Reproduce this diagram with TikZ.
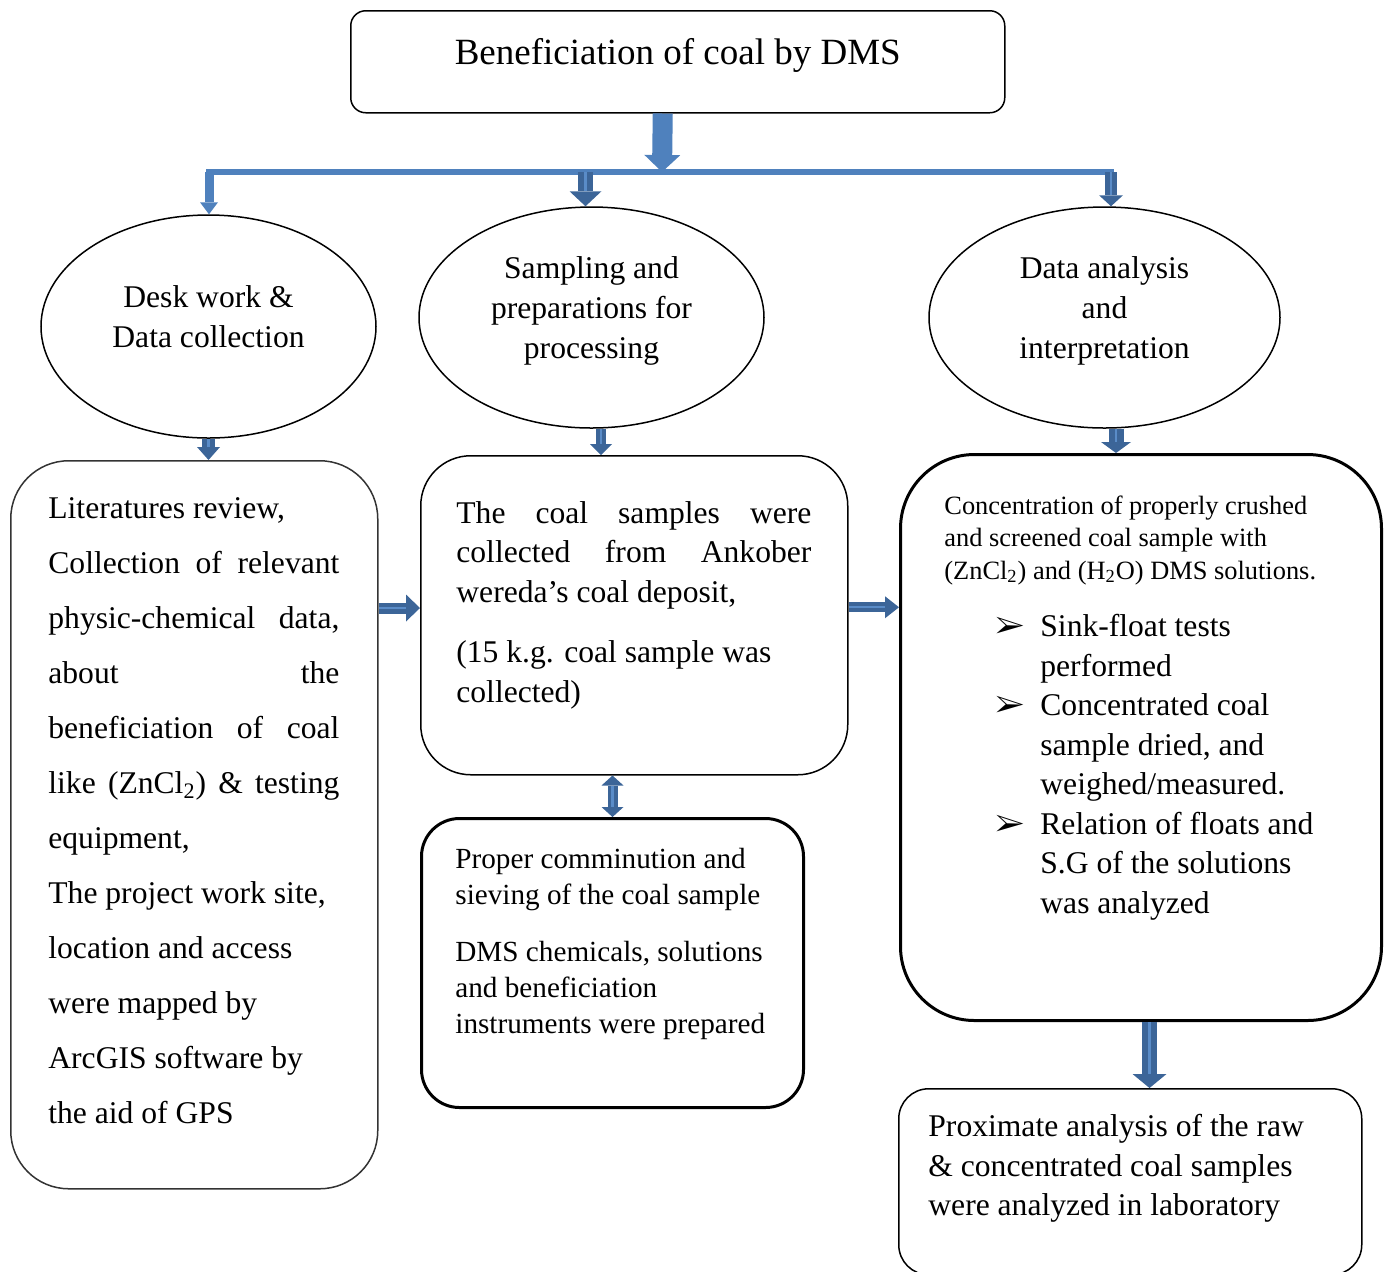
\documentclass[tikz,border=0pt]{standalone}
\usepackage{fontspec}
\setmainfont{Liberation Serif}
\usepackage{pifont}
\usetikzlibrary{positioning,arrows.meta,shapes.geometric}
\definecolor{barblue}{HTML}{4F81BD}
\definecolor{arrowdark}{HTML}{3C6598}
\definecolor{stripeblue}{HTML}{5A8CC8}
\newcommand{\txtbig}{\fontsize{18.5pt}{22pt}\selectfont}
\newcommand{\txtmain}{\fontsize{15.8pt}{19.75pt}\selectfont}
\newcommand{\txtmid}{\fontsize{14.6pt}{18pt}\selectfont}
\newcommand{\txtsmall}{\fontsize{13.2pt}{16.25pt}\selectfont}

\begin{document}
\begin{tikzpicture}[x=0.5pt, y=-0.5pt,
  box/.style={draw, rounded corners=#1, line width=0.75pt, inner sep=0pt, anchor=north west},
  oval/.style={draw, ellipse, line width=0.75pt, inner sep=0pt},
  txt/.style={inner sep=0pt, anchor=north west},
  ragtxt/.style={txt, align=left, execute at begin node={\spaceskip=0pt\xspaceskip=0pt}},
  etxt/.style={inner sep=0pt, align=center, font=\fontsize{15.8pt}{20pt}\selectfont},
  bar/.style={draw=barblue, line width=3pt},
  lightblk/.style n args={3}{draw=barblue, line width=#1, -{Triangle[width=#2, length=#3, line width=0pt]}},
  blk/.style n args={3}{draw=arrowdark, line width=#1, -{Triangle[width=#2, length=#3, line width=0pt]},
    postaction={draw=stripeblue, line width=1.2pt, -, shorten >=#3}},
  dblblk/.style n args={3}{draw=arrowdark, line width=#1,
    {Triangle[width=#2, length=#3, line width=0pt]}-{Triangle[width=#2, length=#3, line width=0pt]},
    postaction={draw=stripeblue, line width=1.2pt, -, shorten >=#3, shorten <=#3}}]
  \useasboundingbox (0,0) rectangle (1387,1271);

  \node[box=7.5pt, minimum width=327pt, minimum height=51pt] (title) at (350,10) {};
  \node[anchor=base, inner sep=0pt, font=\txtbig] (titletxt) at ([yshift=-27pt]title.north) {Beneficiation of coal by DMS};

  \node[oval, minimum width=167.5pt, minimum height=111.5pt] (desk) at (208.5,326.5) {};
  \node[etxt] (desktxt) at ([yshift=5pt]desk.center) {Desk work \&\\Data collection};
  \node[oval, minimum width=172.5pt, minimum height=110.5pt] (samp) at (591.5,317.5) {};
  \node[etxt] (samptxt) at ([yshift=3.5pt]samp.center) {Sampling and\\preparations for\\processing};
  \node[oval, minimum width=175.5pt, minimum height=110.5pt] (data) at (1104.5,317.5) {};
  \node[etxt] (datatxt) at ([yshift=3.5pt]data.center) {Data analysis\\and\\interpretation};

  \node[box=29pt, draw=black!80, minimum width=183.5pt, minimum height=364pt] (lit) at (10,460) {};
  \node[txt, text width=145.5pt, align=justify, font=\fontsize{15.8pt}{27.5pt}\selectfont] (littxt) at ([xshift=19pt, yshift=-18.5pt]lit.north west)
    {Literatures review,\par Collection of relevant\linebreak physic-chemical data,\linebreak about the\linebreak beneficiation of coal\linebreak like (ZnCl\textsubscript{2}) \& testing\linebreak equipment,\par The project work site,\newline location and access\newline were mapped by\newline ArcGIS software by\newline the aid of GPS};

  \node[box=25pt, minimum width=213.5pt, minimum height=159.5pt] (coll) at (420,455) {};
  \node[txt, text width=177.5pt, align=justify, font=\txtmain] (colltxt) at ([xshift=18pt, yshift=-23pt]coll.north west)
    {The coal samples were\linebreak collected from Ankober\linebreak wereda's coal deposit,\par\vspace{10.5pt}(15 k.g. coal sample was\newline collected)};

  \node[box=19pt, line width=1.5pt, minimum width=191pt, minimum height=144.5pt] (comm) at (420,817) {};
  \node[ragtxt, text width=170pt, font=\txtmid] (commtxt) at ([xshift=17.5pt, yshift=-15.5pt]comm.north west)
    {Proper comminution and\\sieving of the coal sample\\[10.5pt]DMS chemicals, solutions\\and beneficiation\\instruments were prepared};

  \node[box=37pt, line width=1.5pt, minimum width=240.5pt, minimum height=283pt] (conc) at (899,453) {};
  \node[ragtxt, text width=210pt, font=\txtsmall] (conctxt) at ([xshift=22.5pt, yshift=-21pt]conc.north west)
    {Concentration of properly crushed\\and screened coal sample with\\(ZnCl\textsubscript{2}) and (H\textsubscript{2}O) DMS solutions.};
  \node[ragtxt, text width=170pt, font=\txtmain] (concitems) at ([xshift=48pt, yshift=-80.5pt]conc.north west)
    {\makebox[22.5pt][l]{\ding{226}}Sink-float tests\\\hspace*{22.5pt}performed\\
     \makebox[22.5pt][l]{\ding{226}}Concentrated coal\\\hspace*{22.5pt}sample dried, and\\\hspace*{22.5pt}weighed/measured.\\
     \makebox[22.5pt][l]{\ding{226}}Relation of floats and\\\hspace*{22.5pt}S.G of the solutions\\\hspace*{22.5pt}was analyzed};

  \node[box=15pt, minimum width=231.5pt, minimum height=93pt] (prox) at (898,1088) {};
  \node[ragtxt, text width=205pt, font=\txtmain] (proxtxt) at ([xshift=15pt, yshift=-13pt]prox.north west)
    {Proximate analysis of the raw\\\& concentrated coal samples\\were analyzed in laboratory};

  \coordinate (hub) at (662,172);
  \coordinate (barL) at (209,172);
  \coordinate (barM) at (585.5,172);
  \coordinate (barR) at (1111,172);
  \coordinate (titleout) at ([xshift=-7.5pt]title.south);
  \draw[bar, line cap=rect] (barL) -- (barR);
  \draw[lightblk={10pt}{18pt}{8.5pt}] (titleout) -- (hub);
  \draw[lightblk={4.5pt}{9pt}{6pt}] (barL) -- (barL |- desk.north);
  \draw[blk={7.5pt}{16pt}{7.5pt}] (barM) -- (barM |- samp.north);
  \draw[blk={6pt}{12pt}{5.5pt}] (barR) -- (barR |- data.north);

  \coordinate (sampout) at ([xshift=4.75pt]samp.south);
  \coordinate (dataout) at ([xshift=5.75pt]data.south);
  \coordinate (litout) at ([yshift=-74pt]lit.north east);
  \coordinate (collout) at ([yshift=4pt]coll.east);
  \coordinate (concout) at ([xshift=4.25pt]conc.south);
  \draw[blk={6.5pt}{11.5pt}{6.5pt}] (desk.south) -- (desk.south |- lit.north);
  \draw[blk={5pt}{11pt}{5.5pt}] (sampout) -- (sampout |- coll.north);
  \draw[blk={7.5pt}{15pt}{5.5pt}] (dataout) -- (dataout |- conc.north);
  \draw[blk={5.5pt}{13.5pt}{7pt}] (litout) -- (litout -| coll.west);
  \draw[blk={5pt}{11pt}{7pt}] (collout) -- (collout -| conc.west);
  \draw[dblblk={5pt}{11pt}{5pt}] (comm.north |- coll.south) -- (comm.north);
  \draw[blk={7.5pt}{17pt}{7pt}] (concout) -- (concout |- prox.north);
\end{tikzpicture}
\end{document}
